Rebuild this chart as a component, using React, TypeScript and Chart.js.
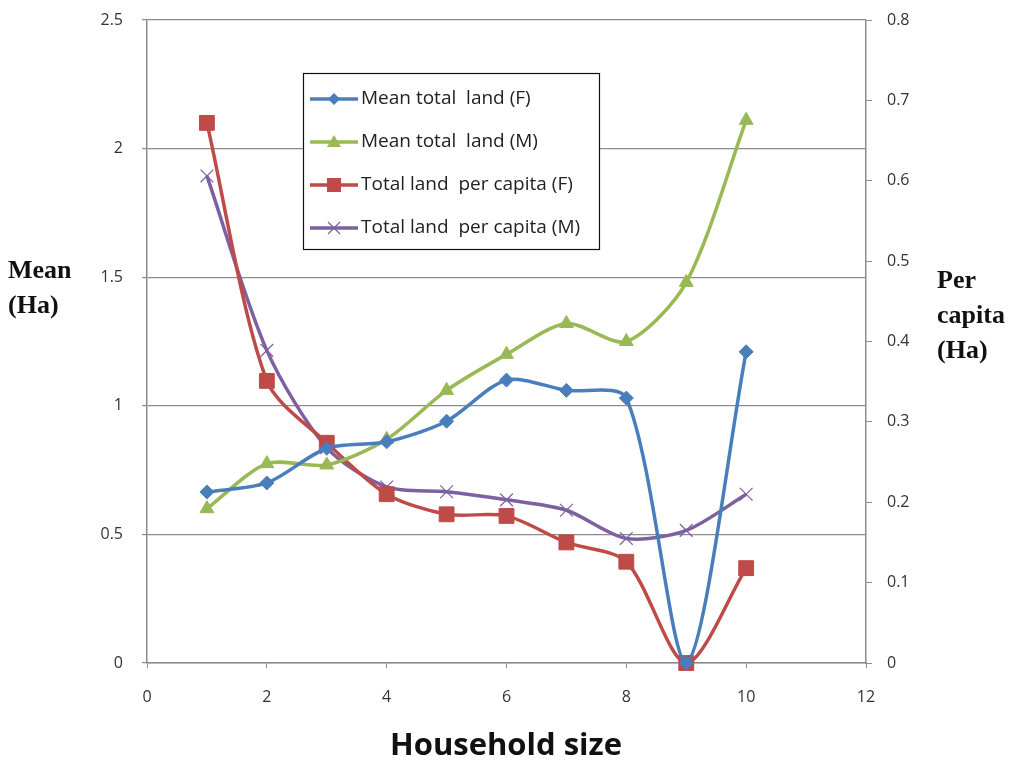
import React, { useRef, useEffect } from 'react';
import { Chart, registerables } from 'chart.js';

Chart.register(...registerables);

// household size (x values)
const householdSize = [1, 2, 3, 4, 5, 6, 7, 8, 9, 10];

// left axis, mean total land (Ha)
const meanLandF = [0.665, 0.70, 0.835, 0.86, 0.94, 1.10, 1.06, 1.03, 0, 1.21];
const meanLandM = [0.60, 0.775, 0.77, 0.87, 1.06, 1.20, 1.32, 1.25, 1.48, 2.11];

// right axis, total land per capita (Ha)
const perCapitaF = [0.672, 0.351, 0.274, 0.210, 0.185, 0.183, 0.150, 0.126, 0, 0.118];
const perCapitaM = [0.606, 0.389, 0.268, 0.219, 0.213, 0.203, 0.190, 0.155, 0.165, 0.210];

const seriesNames = [
  'Mean total  land (F)',
  'Mean total  land (M)',
  'Total land  per capita (F)',
  'Total land  per capita (M)',
];

const BLUE = '#4a7ebb';
const GREEN = '#98b954';
const RED = '#be4b48';
const PURPLE = '#7d60a0';
const AXIS = '#8c8c8c';
const TICK_FONT = { family: "'Open Sans', 'Liberation Sans', sans-serif", size: 16 };

const toPoints = (ys: number[]) => householdSize.map((x, i) => ({ x, y: ys[i] }));

// small marker drawer for the legend samples
const drawMarker = (ctx: CanvasRenderingContext2D, style: string, color: string, x: number, y: number) => {
  ctx.fillStyle = color;
  ctx.strokeStyle = color;
  ctx.beginPath();
  if (style === 'rectRot') {
    ctx.moveTo(x, y - 6); ctx.lineTo(x + 6, y); ctx.lineTo(x, y + 6); ctx.lineTo(x - 6, y);
    ctx.closePath(); ctx.fill();
  } else if (style === 'triangle') {
    ctx.moveTo(x, y - 7); ctx.lineTo(x + 7, y + 5); ctx.lineTo(x - 7, y + 5);
    ctx.closePath(); ctx.fill();
  } else if (style === 'rect') {
    ctx.rect(x - 7, y - 7, 14, 14); ctx.fill();
  } else {
    ctx.lineWidth = 1.2;
    ctx.moveTo(x - 6, y - 6); ctx.lineTo(x + 6, y + 6);
    ctx.moveTo(x + 6, y - 6); ctx.lineTo(x - 6, y + 6);
    ctx.stroke();
  }
};

// draws the boxed legend inside the plot, like Excel does
const boxLegend = {
  id: 'boxLegend',
  afterDraw(chart: any) {
    const ctx = chart.ctx;
    const left = 303, top = 73, w = 296, h = 176;
    ctx.save();
    ctx.fillStyle = '#fff';
    ctx.fillRect(left, top, w, h);
    ctx.strokeStyle = '#111';
    ctx.lineWidth = 1.2;
    ctx.strokeRect(left + 0.5, top + 0.5, w, h);
    chart.data.datasets.forEach((ds: any, i: number) => {
      const y = top + 26 + i * 43;
      ctx.strokeStyle = ds.borderColor;
      ctx.lineWidth = 3.5;
      ctx.beginPath();
      ctx.moveTo(310, y);
      ctx.lineTo(358, y);
      ctx.stroke();
      drawMarker(ctx, ds.pointStyle, ds.borderColor, 334, y);
      ctx.fillStyle = '#222';
      ctx.font = "19px 'Open Sans', 'Liberation Sans', sans-serif";
      ctx.textBaseline = 'middle';
      ctx.fillText(seriesNames[i], 361, y);
    });
    ctx.restore();
  },
};

// fixed box sizes so the plot area lands where the original has it
const fixY = (width: number) => (s: any) => {
  s.width = width;
  s.paddingTop = 0;
  s.paddingBottom = 0;
};

const App: React.FC = () => {
  const chartRef = useRef<HTMLCanvasElement>(null);
  const chartInstance = useRef<Chart | null>(null);

  useEffect(() => {
    if (!chartRef.current) return;
    if (chartInstance.current) chartInstance.current.destroy();
    const ctx = chartRef.current.getContext('2d');
    if (!ctx) return;

    const line = (label: string, data: number[], color: string, axis: string, style: string, radius: number, bw: number) => ({
      label,
      data: toPoints(data),
      yAxisID: axis,
      borderColor: color,
      backgroundColor: color,
      borderWidth: 3.5,
      tension: 0.28,
      pointStyle: style,
      pointRadius: radius,
      pointBackgroundColor: color,
      pointBorderColor: color,
      pointBorderWidth: bw,
      clip: 12,
    });

    chartInstance.current = new Chart(ctx, {
      type: 'line',
      data: {
        datasets: [
          line(seriesNames[0], meanLandF, BLUE, 'y', 'rectRot', 7, 1),
          line(seriesNames[1], meanLandM, GREEN, 'y', 'triangle', 8, 1),
          line(seriesNames[2], perCapitaF, RED, 'y1', 'rect', 10.5, 1),
          line(seriesNames[3], perCapitaM, PURPLE, 'y1', 'crossRot', 9, 1.2),
        ] as any,
      },
      options: {
        animation: false,
        responsive: false,
        maintainAspectRatio: false,
        layout: { padding: { top: 20, left: 0, right: 0, bottom: 0 } },
        plugins: { legend: { display: false }, tooltip: { enabled: false } },
        scales: {
          x: {
            type: 'linear',
            min: 0,
            max: 12,
            ticks: { stepSize: 2, color: '#333', font: TICK_FONT, padding: 20 },
            grid: { display: true, drawOnChartArea: false, color: AXIS, tickLength: 5 },
            border: { color: AXIS, width: 1.5 },
            afterFit: (s: any) => { s.height = 105; s.paddingLeft = 0; s.paddingRight = 0; },
          },
          y: {
            position: 'left',
            min: 0,
            max: 2.5,
            ticks: { stepSize: 0.5, color: '#333', font: TICK_FONT, padding: 19, callback: (v: any) => String(Number(v)) },
            grid: { color: AXIS, lineWidth: 1.2, tickLength: 5 },
            border: { color: AXIS, width: 1.5 },
            afterFit: fixY(147),
          },
          y1: {
            position: 'right',
            min: 0,
            max: 0.8,
            ticks: { stepSize: 0.1, color: '#333', font: TICK_FONT, padding: 15, callback: (v: any) => String(Math.round(Number(v) * 10) / 10) },
            grid: { drawOnChartArea: false, color: AXIS, tickLength: 6 },
            border: { color: AXIS, width: 1.5 },
            afterFit: fixY(158),
          },
        },
      } as any,
      plugins: [boxLegend],
    });

    return () => {
      if (chartInstance.current) chartInstance.current.destroy();
    };
  }, []);

  const serifTitle: React.CSSProperties = {
    position: 'absolute',
    fontFamily: "'Liberation Serif', 'DejaVu Serif', serif",
    fontWeight: 'bold',
    fontSize: 26,
    lineHeight: '35px',
    color: '#111',
  };

  return (
    <div style={{ position: 'absolute', left: 0, top: 0, width: 1024, height: 768, background: '#fff' }}>
      <canvas ref={chartRef} width={1024} height={768} style={{ width: 1024, height: 768, display: 'block' }} />
      <div style={{ ...serifTitle, left: 8, top: 252 }}>Mean<br />(Ha)</div>
      <div style={{ ...serifTitle, left: 937, top: 262 }}>Per<br />capita<br />(Ha)</div>
      <div
        style={{
          position: 'absolute',
          left: 0,
          width: 1012,
          top: 722,
          textAlign: 'center',
          fontFamily: "'Open Sans', 'Liberation Sans', sans-serif",
          fontWeight: 'bold',
          fontSize: 31,
          color: '#111',
        }}
      >
        Household size
      </div>
    </div>
  );
};

export default App;
